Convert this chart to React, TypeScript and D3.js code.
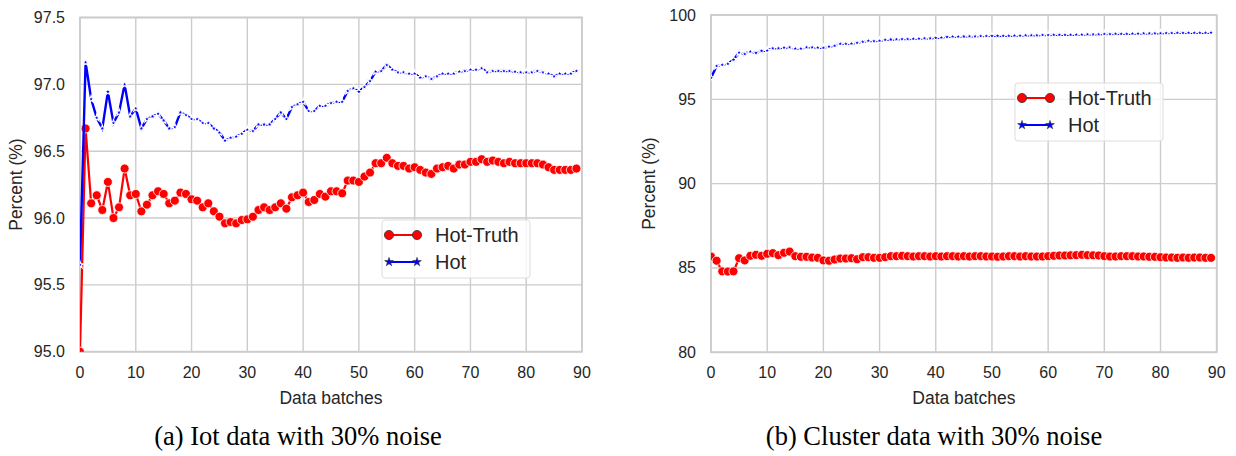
import React from "react";
import * as d3 from "d3";

const batches: number[] = d3.range(0, 90);

const iotHotTruth: number[] = [
  95.0, 96.67, 96.11, 96.17, 96.06, 96.27, 96.0, 96.08, 96.37, 96.17,
  96.18, 96.05, 96.1, 96.17, 96.2, 96.18, 96.11, 96.13, 96.19, 96.18,
  96.14, 96.13, 96.08, 96.11, 96.05, 96.01, 95.96, 95.97, 95.96, 95.985,
  95.99, 96.01, 96.06, 96.08, 96.06, 96.08, 96.11, 96.07, 96.155, 96.17,
  96.19, 96.12, 96.135, 96.18, 96.16, 96.2, 96.2, 96.185, 96.28, 96.28,
  96.27, 96.31, 96.34, 96.41, 96.41, 96.45, 96.41, 96.39, 96.39, 96.37,
  96.38, 96.36, 96.34, 96.33, 96.37, 96.38, 96.39, 96.37, 96.4, 96.4,
  96.42, 96.42, 96.44, 96.42, 96.43, 96.42, 96.41, 96.42, 96.41, 96.41,
  96.41, 96.41, 96.41, 96.4, 96.38, 96.36, 96.36, 96.36, 96.36, 96.37,
];

const iotHot: number[] = [
  95.65, 97.165, 96.89, 96.75, 96.67, 96.945, 96.71, 96.79, 97.0, 96.76,
  96.82, 96.67, 96.74, 96.76, 96.78, 96.73, 96.67, 96.68, 96.79, 96.77,
  96.74, 96.74, 96.71, 96.71, 96.67, 96.64, 96.58, 96.6, 96.61, 96.63,
  96.66, 96.65, 96.7, 96.7, 96.7, 96.74, 96.79, 96.74, 96.83, 96.85,
  96.87, 96.8, 96.8, 96.84, 96.84, 96.86, 96.87, 96.87, 96.95, 96.97,
  96.945, 96.98, 97.025, 97.095, 97.1, 97.145, 97.11, 97.09, 97.09, 97.08,
  97.08, 97.05, 97.06, 97.04, 97.06, 97.08, 97.08, 97.08, 97.095, 97.1,
  97.11, 97.11, 97.12, 97.09, 97.1, 97.1, 97.1, 97.1, 97.095, 97.09,
  97.09, 97.09, 97.1, 97.09, 97.08, 97.06, 97.08, 97.08, 97.08, 97.1,
];

const clusterHotTruth: number[] = [
  85.68, 85.43, 84.8, 84.79, 84.8, 85.58, 85.45, 85.72, 85.78, 85.72,
  85.84, 85.88, 85.76, 85.9, 85.97, 85.7, 85.66, 85.66, 85.62, 85.6,
  85.45, 85.43, 85.5, 85.56, 85.56, 85.58, 85.52, 85.64, 85.64, 85.6,
  85.6, 85.64, 85.7, 85.7, 85.72, 85.7, 85.68, 85.7, 85.7, 85.68,
  85.7, 85.68, 85.7, 85.7, 85.68, 85.7, 85.68, 85.7, 85.7, 85.68,
  85.68, 85.66, 85.68, 85.7, 85.7, 85.68, 85.7, 85.68, 85.68, 85.68,
  85.7, 85.72, 85.74, 85.74, 85.75, 85.76, 85.78, 85.76, 85.75, 85.74,
  85.7, 85.68, 85.68, 85.7, 85.7, 85.7, 85.68, 85.68, 85.66, 85.66,
  85.64, 85.62, 85.62, 85.6, 85.62, 85.6, 85.62, 85.62, 85.6, 85.6,
];

const clusterHot: number[] = [
  96.27, 96.97, 97.05, 97.11, 97.35, 97.77, 97.69, 97.83, 97.75, 97.87,
  97.89, 98.03, 98.03, 98.07, 98.09, 98.01, 98.01, 98.09, 98.09, 98.07,
  98.05, 98.13, 98.17, 98.29, 98.29, 98.31, 98.35, 98.41, 98.47, 98.45,
  98.47, 98.53, 98.55, 98.56, 98.57, 98.57, 98.59, 98.6, 98.62, 98.62,
  98.64, 98.66, 98.7, 98.72, 98.72, 98.73, 98.74, 98.74, 98.75, 98.75,
  98.76, 98.76, 98.77, 98.77, 98.78, 98.78, 98.79, 98.8, 98.8, 98.81,
  98.81, 98.82, 98.82, 98.83, 98.83, 98.84, 98.84, 98.85, 98.85, 98.86,
  98.87, 98.87, 98.88, 98.88, 98.89, 98.9, 98.9, 98.91, 98.91, 98.92,
  98.92, 98.93, 98.93, 98.94, 98.94, 98.94, 98.95, 98.95, 98.95, 98.96,
];

const xTicks: number[] = [0, 10, 20, 30, 40, 50, 60, 70, 80, 90];
const iotYTicks: number[] = [95.0, 95.5, 96.0, 96.5, 97.0, 97.5];
const clusterYTicks: number[] = [80, 85, 90, 95, 100];

const seriesNames: string[] = ["Hot-Truth", "Hot"];
const xLabel = "Data batches";
const yLabel = "Percent (%)";
const captions: string[] = ["(a) Iot data with 30% noise", "(b) Cluster data with 30% noise"];

const SANS = "'Liberation Sans', Arial, Helvetica, sans-serif";
const SERIF = "'Liberation Serif', 'Times New Roman', Times, serif";
const GRID = "#cccccc";
const TXT = "#262626";

type PanelProps = {
  id: string;
  left: number;
  right: number;
  top: number;
  bottom: number;
  yDomain: [number, number];
  yTicks: number[];
  yFmt: (v: number) => string;
  truth: number[];
  hot: number[];
  legendX: number;
  legendY: number;
  caption: string;
  captionX: number;
  yLabelX: number;
};

function Panel(p: PanelProps) {
  const x = d3.scaleLinear().domain([0, 90]).range([p.left, p.right]);
  const y = d3.scaleLinear().domain(p.yDomain).range([p.bottom, p.top]);
  const line = d3
    .line<number>()
    .x((_, i) => x(batches[i]))
    .y((d) => y(d));
  const star = d3.symbol().type(d3.symbolStar).size(15)();
  const starLeg = d3.symbol().type(d3.symbolStar).size(24)();
  const clipId = `clip-${p.id}`;
  const lw = 148;
  const lh = 58;
  return (
    <g>
      <defs>
        <clipPath id={clipId}>
          <rect x={p.left} y={p.top} width={p.right - p.left} height={p.bottom - p.top} />
        </clipPath>
      </defs>
      {xTicks.map((t) => (
        <line key={`gx${t}`} x1={x(t)} x2={x(t)} y1={p.top} y2={p.bottom} stroke={GRID} strokeWidth={1.4} />
      ))}
      {p.yTicks.map((t) => (
        <line key={`gy${t}`} x1={p.left} x2={p.right} y1={y(t)} y2={y(t)} stroke={GRID} strokeWidth={1.4} />
      ))}
      <rect x={p.left} y={p.top} width={p.right - p.left} height={p.bottom - p.top} fill="none" stroke={GRID} strokeWidth={1.8} />
      {xTicks.map((t) => (
        <text key={`tx${t}`} x={x(t)} y={p.bottom + 26} textAnchor="middle" fontSize={16} fill={TXT} fontFamily={SANS}>
          {t}
        </text>
      ))}
      {p.yTicks.map((t) => (
        <text key={`ty${t}`} x={p.left - 15} y={y(t) + 5.5} textAnchor="end" fontSize={16} fill={TXT} fontFamily={SANS}>
          {p.yFmt(t)}
        </text>
      ))}
      <text x={(p.left + p.right) / 2} y={p.bottom + 52} textAnchor="middle" fontSize={17.5} fill={TXT} fontFamily={SANS}>
        {xLabel}
      </text>
      <text
        transform={`translate(${p.yLabelX},${(p.top + p.bottom) / 2}) rotate(-90)`}
        textAnchor="middle"
        fontSize={17.5}
        fill={TXT}
        fontFamily={SANS}
      >
        {yLabel}
      </text>
      <g clipPath={`url(#${clipId})`}>
        <path d={line(p.truth) || ""} fill="none" stroke="#ff0000" strokeWidth={2.2} />
        {p.truth.map((v, i) => (
          <circle key={`c${i}`} cx={x(batches[i])} cy={y(v)} r={4.5} fill="#ff0000" stroke="#ffffff" strokeWidth={0.8} />
        ))}
        <path d={line(p.hot) || ""} fill="none" stroke="#0000ff" strokeWidth={2.4} />
        {p.hot.map((v, i) => (
          <path
            key={`s${i}`}
            d={star || ""}
            transform={`translate(${x(batches[i])},${y(v)})`}
            fill="#0000ff"
            stroke="#ffffff"
            strokeWidth={1.1}
          />
        ))}
      </g>
      <g transform={`translate(${p.legendX},${p.legendY})`}>
        <rect x={0} y={0} width={lw} height={lh} rx={3} fill="#ffffff" fillOpacity={0.8} stroke="#dddddd" strokeWidth={1} />
        <line x1={7} x2={35} y1={15} y2={15} stroke="#ff0000" strokeWidth={2} />
        <circle cx={7} cy={15} r={4.6} fill="#ff0000" stroke="#333333" strokeWidth={0.8} />
        <circle cx={35} cy={15} r={4.6} fill="#ff0000" stroke="#333333" strokeWidth={0.8} />
        <text x={53} y={22} fontSize={20} fill={TXT} fontFamily={SANS}>
          {seriesNames[0]}
        </text>
        <line x1={7} x2={35} y1={42} y2={42} stroke="#0000ff" strokeWidth={2} />
        <path d={starLeg || ""} transform="translate(7,42)" fill="#0000ff" stroke="#333333" strokeWidth={0.6} />
        <path d={starLeg || ""} transform="translate(35,42)" fill="#0000ff" stroke="#333333" strokeWidth={0.6} />
        <text x={53} y={49} fontSize={20} fill={TXT} fontFamily={SANS}>
          {seriesNames[1]}
        </text>
      </g>
      <text x={p.captionX} y={445} textAnchor="middle" fontSize={26.5} fill="#000000" fontFamily={SERIF}>
        {p.caption}
      </text>
    </g>
  );
}

export default function App() {
  return (
    <svg
      width={1236}
      height={456}
      viewBox="0 0 1236 456"
      style={{ position: "absolute", left: 0, top: 0, background: "#ffffff" }}
    >
      <rect x={0} y={0} width={1236} height={456} fill="#ffffff" />
      <Panel
        id="a"
        left={80}
        right={582}
        top={17.5}
        bottom={351.7}
        yDomain={[95, 97.5]}
        yTicks={iotYTicks}
        yFmt={(v) => v.toFixed(1)}
        truth={iotHotTruth}
        hot={iotHot}
        legendX={382}
        legendY={220}
        caption={captions[0]}
        captionX={298}
        yLabelX={22}
      />
      <Panel
        id="b"
        left={711}
        right={1216.7}
        top={15}
        bottom={352.3}
        yDomain={[80, 100]}
        yTicks={clusterYTicks}
        yFmt={(v) => String(v)}
        truth={clusterHotTruth}
        hot={clusterHot}
        legendX={1015}
        legendY={83}
        caption={captions[1]}
        captionX={934}
        yLabelX={655}
      />
    </svg>
  );
}
